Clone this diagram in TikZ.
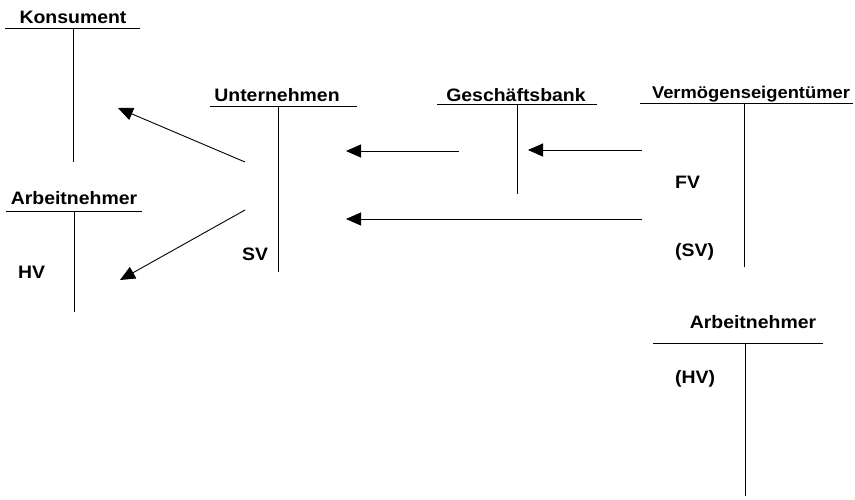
\documentclass[tikz,border=0pt]{standalone}
\usepackage{fontspec}
\setmainfont{Liberation Sans}[FakeStretch=1.08]
\usepackage{tikz}
\usetikzlibrary{arrows.meta}
\tikzset{
  acct/.style={anchor=base,inner sep=0pt,font=\fontsize{18}{20}\selectfont\bfseries},
  lbl/.style={anchor=base west,inner sep=0pt,font=\fontsize{18}{20}\selectfont\bfseries},
  tline/.style={line width=0.9pt},
  flow/.style={line width=0.9pt,-{Triangle[length=15pt,width=13pt]}}
}

\begin{document}
\begin{tikzpicture}[x=1pt,y=-1pt]
  \useasboundingbox (0,0) rectangle (855,499);

  % Accounts
  \node[acct] (kons) at (73,23) {Konsument};
  \draw[tline] (5,28) -- (140,28) (73,28) -- (73,162);

  \node[acct] (arbl) at (74,204) {Arbeitnehmer};
  \draw[tline] (6,211) -- (142,211) (74,211) -- (74,312);
  \node[lbl] (hv) at (18,278) {HV};

  \node[acct] (unt) at (277,101) {Unternehmen};
  \draw[tline] (210,106) -- (357,106) (278,106) -- (278,272);
  \node[lbl] (sv) at (242,260) {SV};

  \node[acct] (bank) at (516,101) {Geschäftsbank};
  \draw[tline] (437,104) -- (597,104) (517,104) -- (517,194);

  \node[acct,font=\fontsize{17}{20}\selectfont\bfseries] (verm) at (751,98) {Vermögenseigentümer};
  \draw[tline] (640,103) -- (853,103) (744,103) -- (744,267);
  \node[lbl] (fv) at (675,188) {FV};
  \node[lbl] (svv) at (675,256) {(SV)};

  \node[acct] (arbr) at (753,328) {Arbeitnehmer};
  \draw[tline] (653,343) -- (823,343) (745,343) -- (745,496);
  \node[lbl] (hvv) at (675,383) {(HV)};

  % Flows
  \coordinate (u1) at (245,162);
  \coordinate (k1) at (118,108);
  \coordinate (u2) at (245,210);
  \coordinate (a1) at (120,280);
  \coordinate (b1) at (459,151);
  \coordinate (u3) at (346,151);
  \coordinate (v1) at (642,150);
  \coordinate (b2) at (528,150);
  \coordinate (v2) at (642,219);
  \coordinate (u4) at (346,219);
  \draw[flow] (u1) -- (k1);
  \draw[flow] (u2) -- (a1);
  \draw[flow] (b1) -- (u3);
  \draw[flow] (v1) -- (b2);
  \draw[flow] (v2) -- (u4);
\end{tikzpicture}
\end{document}
